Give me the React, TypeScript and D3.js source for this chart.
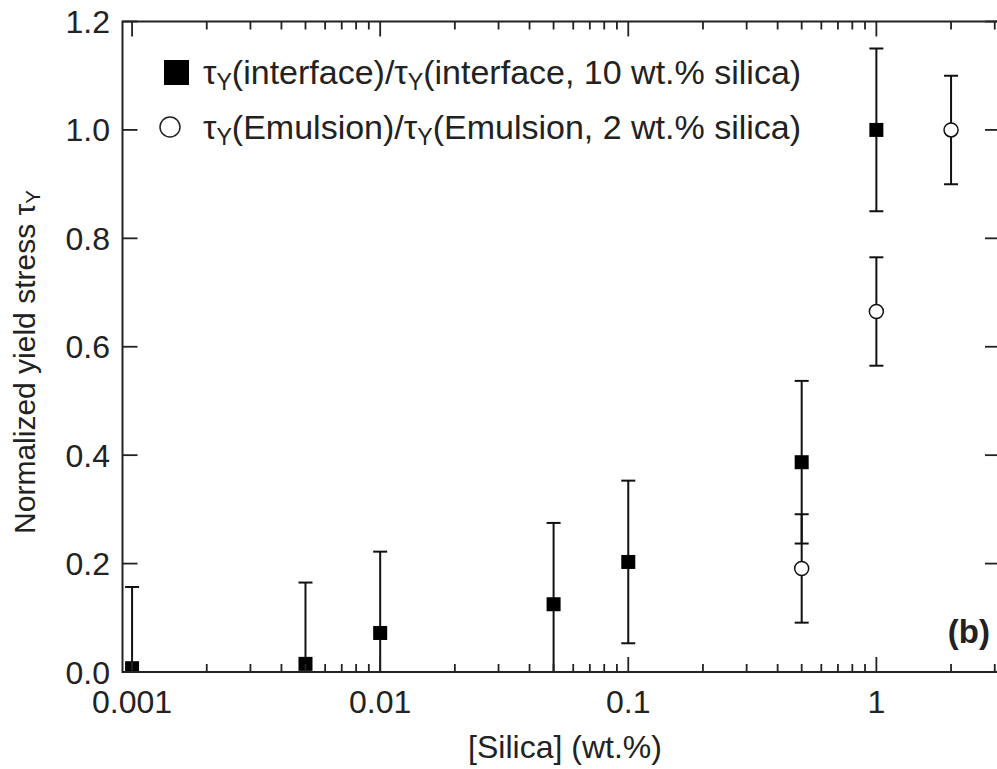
import React from "react";
import * as d3 from "d3";

const W = 997;
const H = 769;

// Data
const interfaceX = [0.001, 0.005, 0.01, 0.05, 0.1, 0.5, 1];
const interfaceY = [0.007, 0.015, 0.072, 0.125, 0.203, 0.387, 1.0];
const interfaceErr = [0.15, 0.15, 0.15, 0.15, 0.15, 0.15, 0.15];

const emulsionX = [0.5, 1, 2];
const emulsionY = [0.191, 0.665, 1.0];
const emulsionErr = [0.1, 0.1, 0.1];

const xMajorTicks = [0.001, 0.01, 0.1, 1];
const xMajorLabels = ["0.001", "0.01", "0.1", "1"];
const yTicks = [0, 0.2, 0.4, 0.6, 0.8, 1.0, 1.2];
const yTickLabels = ["0.0", "0.2", "0.4", "0.6", "0.8", "1.0", "1.2"];

const legendLabels = [
  ["(interface)/", "(interface, 10 wt.% silica)"],
  ["(Emulsion)/", "(Emulsion, 2 wt.% silica)"],
];

export default function App() {
  const left = 122.5;
  const right = 1000;
  const top = 21.5;
  const bottom = 672;

  const x = d3.scaleLog().domain([0.000915, 3.15]).range([left, right]);
  const y = d3.scaleLinear().domain([0, 1.2]).range([bottom, top]);

  const minorTicks: number[] = [];
  for (let e = -3; e <= 0; e++) {
    for (let m = 2; m <= 9; m++) {
      const v = m * Math.pow(10, e);
      if (v < 3.15) minorTicks.push(v);
    }
  }

  const font = "'Liberation Sans', Arial, sans-serif";
  const majorLen = 15;
  const minorLen = 8;
  const capW = 7;
  const sq = 14;
  const r = 7;
  const tickFs = 32;
  const legFs = 34;
  const titleFs = 32;

  const tau = (fs: number) => [
    <tspan key="t">τ</tspan>,
    <tspan key="y" fontSize={fs * 0.68} dy={fs * 0.18}>Y</tspan>,
  ];

  const errBar = (xv: number, yv: number, e: number, k: string) => {
    const cx = x(xv);
    const y1 = y(yv + e);
    const y0 = y(yv - e);
    return (
      <g key={k}>
        <line x1={cx} x2={cx} y1={y1} y2={y0} stroke="#111" strokeWidth={2} />
        <line x1={cx - capW} x2={cx + capW} y1={y1} y2={y1} stroke="#111" strokeWidth={2} />
        <line x1={cx - capW} x2={cx + capW} y1={y0} y2={y0} stroke="#111" strokeWidth={2} />
      </g>
    );
  };

  return (
    <svg
      width={W}
      height={H}
      style={{ position: "absolute", left: 0, top: 0, background: "#fff" }}
      fontFamily={font}
    >
      <defs>
        <clipPath id="plotclip">
          <rect x={left} y={top - 2} width={right - left} height={bottom - top + 1} />
        </clipPath>
      </defs>

      {/* Data */}
      <g clipPath="url(#plotclip)">
        {interfaceX.map((xv, i) => errBar(xv, interfaceY[i], interfaceErr[i], "ie" + i))}
        {emulsionX.map((xv, i) => errBar(xv, emulsionY[i], emulsionErr[i], "ee" + i))}
        {interfaceX.map((xv, i) => (
          <rect
            key={"is" + i}
            x={x(xv) - sq / 2}
            y={y(interfaceY[i]) - sq / 2}
            width={sq}
            height={sq}
            fill="#000"
          />
        ))}
        {emulsionX.map((xv, i) => (
          <circle
            key={"ec" + i}
            cx={x(xv)}
            cy={y(emulsionY[i])}
            r={r}
            fill="#fff"
            stroke="#111"
            strokeWidth={1.5}
          />
        ))}
      </g>

      {/* Frame */}
      <rect x={left} y={top} width={right - left} height={bottom - top} fill="none" stroke="#222" strokeWidth={2} />

      {/* X ticks bottom & top */}
      {xMajorTicks.map((t) => (
        <g key={"xm" + t}>
          <line x1={x(t)} x2={x(t)} y1={bottom} y2={bottom - majorLen} stroke="#222" strokeWidth={1.8} />
          <line x1={x(t)} x2={x(t)} y1={top} y2={top + majorLen} stroke="#222" strokeWidth={1.8} />
        </g>
      ))}
      {minorTicks.map((t) => (
        <g key={"xn" + t}>
          <line x1={x(t)} x2={x(t)} y1={bottom} y2={bottom - minorLen} stroke="#222" strokeWidth={1.8} />
          <line x1={x(t)} x2={x(t)} y1={top} y2={top + minorLen} stroke="#222" strokeWidth={1.8} />
        </g>
      ))}
      {xMajorTicks.map((t, i) => (
        <text key={"xl" + t} x={x(t)} y={713} textAnchor="middle" fontSize={tickFs} fill="#222">
          {xMajorLabels[i]}
        </text>
      ))}

      {/* Y ticks left & right */}
      {yTicks.map((t, i) => (
        <g key={"yt" + t}>
          <line x1={left} x2={left + majorLen} y1={y(t)} y2={y(t)} stroke="#222" strokeWidth={1.8} />
          <line x1={right} x2={right - majorLen} y1={y(t)} y2={y(t)} stroke="#222" strokeWidth={1.8} />
          <text x={110} y={y(t) + 11.5} textAnchor="end" fontSize={tickFs} fill="#222">
            {yTickLabels[i]}
          </text>
        </g>
      ))}

      {/* Axis titles */}
      <text x={565} y={758} textAnchor="middle" fontSize={titleFs} fill="#222">
        [Silica] (wt.%)
      </text>
      <text
        transform={`translate(35, 362) rotate(-90)`}
        textAnchor="middle"
        fontSize={30}
        fill="#222"
      >
        Normalized yield stress {tau(30)}
      </text>

      {/* Legend */}
      <rect x={164} y={60} width={25} height={25} fill="#000" />
      <text x={203} y={84} fontSize={legFs} fill="#222">
        {tau(legFs)}
        <tspan dy={-legFs * 0.18}>{legendLabels[0][0]}</tspan>
        {tau(legFs)}
        <tspan dy={-legFs * 0.18}>{legendLabels[0][1]}</tspan>
      </text>
      <circle cx={170} cy={127} r={10} fill="#fff" stroke="#222" strokeWidth={1.5} />
      <text x={203} y={139} fontSize={legFs} fill="#222">
        {tau(legFs)}
        <tspan dy={-legFs * 0.18}>{legendLabels[1][0]}</tspan>
        {tau(legFs)}
        <tspan dy={-legFs * 0.18}>{legendLabels[1][1]}</tspan>
      </text>

      {/* Panel label */}
      <text x={990} y={643} textAnchor="end" fontSize={33} fontWeight="bold" fill="#222">
        (b)
      </text>
    </svg>
  );
}
